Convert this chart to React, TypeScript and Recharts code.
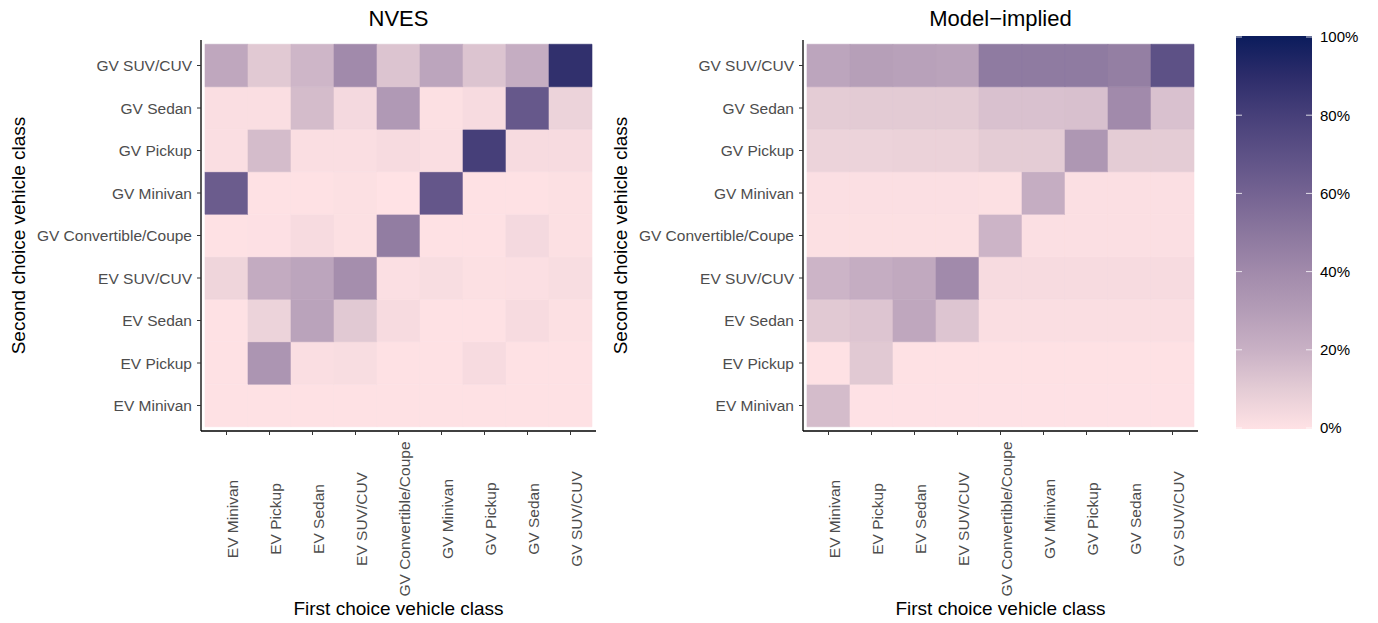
import { Bar, BarChart, Cell, XAxis, YAxis } from "recharts";

// vehicle classes, same order on both axes (x: left to right, y: bottom to top)
const CLASSES = [
  "EV Minivan",
  "EV Pickup",
  "EV Sedan",
  "EV SUV/CUV",
  "GV Convertible/Coupe",
  "GV Minivan",
  "GV Pickup",
  "GV Sedan",
  "GV SUV/CUV",
];

// share (%) of second choice, one row per second-choice class (CLASSES order),
// columns follow first-choice class (CLASSES order)
const nvesShares: number[][] = [
  [0.5, 0.5, 0.5, 0.5, 0.5, 0.5, 0.5, 0.5, 0.5], // EV Minivan
  [0.5, 34, 2, 2.5, 0.5, 0.5, 3, 0.5, 0.5], // EV Pickup
  [0.5, 7, 27, 11, 3, 0.5, 0.5, 3, 1], // EV Sedan
  [6, 23, 26, 38, 1.5, 2.5, 1, 1.5, 2.5], // EV SUV/CUV
  [0.5, 0.8, 3, 1, 47, 0.5, 0.5, 4, 1], // GV Convertible/Coupe
  [64, 0.5, 0.5, 1, 0, 67, 0.5, 0.5, 1], // GV Minivan
  [2, 16, 2, 2, 3, 2, 80, 3, 3], // GV Pickup
  [2, 2, 16, 4, 32, 1, 3, 66, 7], // GV Sedan
  [25, 11, 18, 40, 13, 26, 13, 22, 88], // GV SUV/CUV
];

const modelShares: number[][] = [
  [16, 0.3, 0.3, 0.3, 0.3, 0.3, 0.3, 0.3, 0.3], // EV Minivan
  [0.5, 11, 0.5, 0.5, 0.5, 0.5, 0.5, 0.5, 0.5], // EV Pickup
  [11, 12.5, 25, 12.5, 2, 2, 2, 2, 2], // EV Sedan
  [19, 22, 24, 40, 3, 3, 3, 3, 3], // EV SUV/CUV
  [1, 1, 1, 1, 19, 1.5, 1.5, 1.5, 1.5], // GV Convertible/Coupe
  [1.5, 1.5, 1.5, 1.5, 1, 22, 1.5, 1.5, 1.5], // GV Minivan
  [7, 7, 7.5, 7.5, 10, 10, 33, 10, 10], // GV Pickup
  [10, 10.5, 10.5, 10.5, 14, 14, 14.5, 40, 14], // GV Sedan
  [26, 29, 28, 27, 48, 48, 48, 46, 70], // GV SUV/CUV
];

const legendTicks = [0, 20, 40, 60, 80, 100];

// colour ramp, sampled from the colour bar
const STOPS: [number, string][] = [
  [0, "#FFE2E5"],
  [10, "#E4CCD5"],
  [20, "#C9B1C5"],
  [30, "#B49DB7"],
  [40, "#A18AAB"],
  [50, "#8B779E"],
  [60, "#746392"],
  [70, "#5D5186"],
  [80, "#463F79"],
  [90, "#2C2C6A"],
  [100, "#0B1C5C"],
];

const hex = (c: string) => [1, 3, 5].map((i) => parseInt(c.slice(i, i + 2), 16));

function shade(v: number) {
  for (let i = 1; i < STOPS.length; i++) {
    const [v1, c1] = STOPS[i];
    if (v <= v1) {
      const [v0, c0] = STOPS[i - 1];
      const t = (v - v0) / (v1 - v0);
      const a = hex(c0);
      const b = hex(c1);
      const rgb = a.map((x, k) => Math.round(x + (b[k] - x) * t));
      return `rgb(${rgb.join(",")})`;
    }
  }
  return STOPS[STOPS.length - 1][1];
}

const FONT = '"Liberation Sans", Arial, Helvetica, sans-serif';

const rows = CLASSES.map((first) => {
  const d: Record<string, string | number> = { first };
  CLASSES.forEach((_, i) => (d[`r${i}`] = 1));
  return d;
});

function XTick({ x, payload }: any) {
  return (
    <text
      transform={`translate(${x + 11.5},519) rotate(-90)`}
      textAnchor="middle"
      fontSize={15.5}
      fill="#4D4D4D"
      fontFamily={FONT}
    >
      {payload.value}
    </text>
  );
}

function Panel({ title, values, left }: { title: string; values: number[][]; left: number }) {
  return (
    <div style={{ position: "absolute", left, top: 0, width: 610, height: 623 }}>
      <BarChart
        width={610}
        height={623}
        data={rows}
        margin={{ top: 40, right: 14, left: 0, bottom: 0 }}
        barCategoryGap={0}
        barGap={0}
      >
        <XAxis
          dataKey="first"
          type="category"
          interval={0}
          height={192}
          padding={{ left: 4, right: 4 }}
          tickSize={4}
          tickLine={{ stroke: "#333" }}
          axisLine={{ stroke: "#000", strokeWidth: 1.3 }}
          tick={<XTick />}
        />
        <YAxis
          type="number"
          domain={[-0.1, 9.1]}
          ticks={CLASSES.map((_, i) => i + 0.5)}
          interval={0}
          width={201}
          tickSize={4}
          tickMargin={5}
          tickFormatter={(v: number) => CLASSES[Math.floor(v)]}
          tick={{ fill: "#4D4D4D", fontSize: 15.5, fontFamily: FONT }}
          tickLine={{ stroke: "#333" }}
          axisLine={{ stroke: "#000", strokeWidth: 1.3 }}
        />
        {CLASSES.map((_, ri) => (
          <Bar key={ri} dataKey={`r${ri}`} stackId="tiles" isAnimationActive={false}>
            {CLASSES.map((__, ci) => {
              const c = shade(values[ri][ci]);
              return <Cell key={ci} fill={c} stroke={c} strokeWidth={0.6} />;
            })}
          </Bar>
        ))}
      </BarChart>
      <svg
        width={610}
        height={623}
        style={{ position: "absolute", left: 0, top: 0, pointerEvents: "none" }}
        fontFamily={FONT}
      >
        <text x={398.5} y={26} textAnchor="middle" fontSize={22} fill="#000">
          {title}
        </text>
        <text x={398.5} y={615} textAnchor="middle" fontSize={19} fill="#000">
          First choice vehicle class
        </text>
        <text
          transform="translate(25,235.5) rotate(-90)"
          textAnchor="middle"
          fontSize={19}
          fill="#000"
        >
          Second choice vehicle class
        </text>
      </svg>
    </div>
  );
}

function ColourBar() {
  const top = 37;
  const h = 391;
  return (
    <svg
      width={150}
      height={623}
      style={{ position: "absolute", left: 1228, top: 0 }}
      fontFamily={FONT}
    >
      <defs>
        <linearGradient id="ramp" x1="0" y1="1" x2="0" y2="0">
          {STOPS.map(([v, c]) => (
            <stop key={v} offset={`${v}%`} stopColor={c} />
          ))}
        </linearGradient>
      </defs>
      <rect x={8} y={top - 1} width={76} height={h + 2} fill="url(#ramp)" />
      {legendTicks.map((t) => {
        const y = top + h - (t / 100) * h;
        return (
          <g key={t}>
            <line x1={8} x2={14} y1={y} y2={y} stroke="#fff" strokeOpacity={0.8} />
            <line x1={78} x2={84} y1={y} y2={y} stroke="#fff" strokeOpacity={0.8} />
            <text x={92} y={y} dy="0.36em" fontSize={15} fill="#000">
              {`${t}%`}
            </text>
          </g>
        );
      })}
    </svg>
  );
}

export default function App() {
  return (
    <div
      style={{
        position: "absolute",
        left: 0,
        top: 0,
        width: 1378,
        height: 623,
        background: "#fff",
        fontFamily: FONT,
      }}
    >
      <Panel title="NVES" values={nvesShares} left={0} />
      <Panel title="Model−implied" values={modelShares} left={602} />
      <ColourBar />
    </div>
  );
}
